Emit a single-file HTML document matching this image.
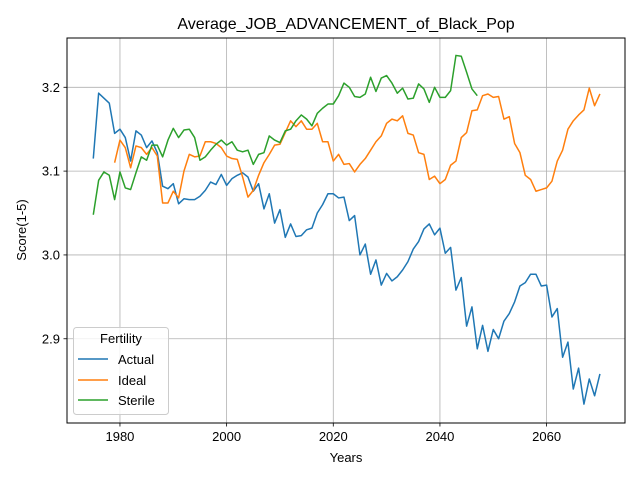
<!DOCTYPE html>
<html><head><meta charset="utf-8"><style>
html,body{margin:0;padding:0;background:#fff;}
svg{display:block;font-family:"Liberation Sans","DejaVu Sans",sans-serif;}
</style></head><body>
<svg id="chart" width="640" height="480" viewBox="0 0 640 480">
<rect x="0" y="0" width="640" height="480" fill="#fff"/>
<text x="346" y="29" font-size="16" text-anchor="middle">Average_JOB_ADVANCEMENT_of_Black_Pop</text>
<g id="grid"></g>
<g id="series"></g>
<rect x="67" y="38" width="558" height="385" fill="none" stroke="#000" stroke-width="1"/>
<g id="ticks"></g>
<text x="346" y="462" font-size="13" text-anchor="middle">Years</text>
<text x="26" y="230" font-size="13" text-anchor="middle" transform="rotate(-90 26 230)">Score(1-5)</text>
<g>
<rect x="73.5" y="327.5" width="95" height="87" rx="3" fill="#fff" fill-opacity="0.8" stroke="#ccc"/>
<text x="121" y="343" font-size="13" text-anchor="middle">Fertility</text>
<line x1="78" y1="359" x2="108" y2="359" stroke="#1f77b4" stroke-width="1.5"/>
<text x="118" y="364" font-size="13">Actual</text>
<line x1="78" y1="380" x2="108" y2="380" stroke="#ff7f0e" stroke-width="1.5"/>
<text x="118" y="385" font-size="13">Ideal</text>
<line x1="78" y1="400" x2="108" y2="400" stroke="#2ca02c" stroke-width="1.5"/>
<text x="118" y="405" font-size="13">Sterile</text>
</g>
</svg>
<script>
const actualStart = 1975;
const actualValues = [3.115,3.193,3.187,3.181,3.145,3.150,3.140,3.112,3.148,3.143,3.128,3.136,3.122,3.082,3.079,3.085,3.061,3.067,3.066,3.066,3.070,3.077,3.087,3.084,3.096,3.083,3.091,3.095,3.098,3.093,3.076,3.085,3.055,3.073,3.038,3.054,3.021,3.037,3.022,3.023,3.030,3.032,3.050,3.060,3.073,3.073,3.068,3.069,3.041,3.047,3.000,3.013,2.977,2.994,2.964,2.978,2.969,2.974,2.982,2.992,3.007,3.016,3.031,3.037,3.024,3.032,3.002,3.009,2.958,2.973,2.915,2.938,2.888,2.916,2.885,2.911,2.900,2.921,2.930,2.944,2.963,2.967,2.977,2.977,2.963,2.964,2.926,2.936,2.878,2.896,2.840,2.865,2.822,2.852,2.832,2.858];
const idealStart = 1979;
const idealValues = [3.110,3.137,3.128,3.104,3.130,3.128,3.120,3.128,3.118,3.062,3.062,3.076,3.068,3.100,3.120,3.117,3.118,3.135,3.135,3.133,3.128,3.118,3.115,3.114,3.093,3.069,3.077,3.095,3.110,3.120,3.131,3.132,3.146,3.160,3.153,3.160,3.150,3.150,3.157,3.135,3.135,3.112,3.120,3.108,3.109,3.099,3.108,3.115,3.125,3.135,3.142,3.157,3.162,3.160,3.166,3.145,3.143,3.122,3.120,3.090,3.094,3.085,3.090,3.107,3.112,3.140,3.146,3.172,3.173,3.190,3.192,3.188,3.189,3.162,3.165,3.133,3.122,3.095,3.090,3.076,3.078,3.080,3.088,3.112,3.125,3.150,3.160,3.167,3.173,3.199,3.178,3.192];
const sterileStart = 1975;
const sterileValues = [3.048,3.089,3.099,3.095,3.066,3.099,3.080,3.078,3.098,3.117,3.113,3.131,3.131,3.117,3.137,3.151,3.140,3.149,3.150,3.140,3.113,3.117,3.125,3.132,3.137,3.131,3.135,3.125,3.123,3.125,3.108,3.120,3.122,3.142,3.137,3.134,3.148,3.150,3.160,3.167,3.162,3.154,3.169,3.175,3.180,3.180,3.190,3.205,3.200,3.189,3.188,3.192,3.212,3.195,3.211,3.214,3.205,3.193,3.199,3.186,3.187,3.204,3.198,3.182,3.200,3.188,3.188,3.196,3.238,3.237,3.218,3.198,3.190];
const xTicks = [1980,2000,2020,2040,2060];
const yTicks = [2.9,3.0,3.1,3.2];

const X0=67,X1=625,Y0=38,Y1=423;
const xMin=1970.07,xMax=2074.7,yMin=2.7995,yMax=3.2588;
function xs(v){return X0+(v-xMin)/(xMax-xMin)*(X1-X0);}
function ys(v){return Y1-(v-yMin)/(yMax-yMin)*(Y1-Y0);}
const NS="http://www.w3.org/2000/svg";
const grid=document.getElementById('grid'),ticks=document.getElementById('ticks'),ser=document.getElementById('series');
function mk(tag,attrs,parent){const e=document.createElementNS(NS,tag);for(const k in attrs)e.setAttribute(k,attrs[k]);parent.appendChild(e);return e;}
xTicks.forEach(t=>{
  const x=xs(t);
  const g=mk('line',{x1:x,x2:x,y1:Y0,y2:Y1,stroke:'#b0b0b0','stroke-width':0.8},grid);
  
  
  const tk=mk('line',{x1:x,x2:x,y1:Y1,y2:Y1+3.5,stroke:'#000','stroke-width':0.8},ticks);
  
  
  const tx=mk('text',{x:x,y:Y1+18,'font-size':13,'text-anchor':'middle'},ticks);
  tx.textContent=t;
  
  
});
yTicks.forEach(t=>{
  const y=ys(t);
  const g=mk('line',{x1:X0,x2:X1,y1:y,y2:y,stroke:'#b0b0b0','stroke-width':0.8},grid);
  
  
  const tk=mk('line',{x1:X0-3.5,x2:X0,y1:y,y2:y,stroke:'#000','stroke-width':0.8},ticks);
  
  
  const tx=mk('text',{x:X0-7,y:y+4.5,'font-size':13,'text-anchor':'end'},ticks);
  tx.textContent=t.toFixed(1);
  
  
});
function drawLine(start,vals,color,name){
  const pts=vals.map((v,i)=>xs(start+i).toFixed(2)+','+ys(v).toFixed(2)).join(' ');
  const p=mk('polyline',{points:pts,fill:'none',stroke:color,'stroke-width':1.5,'stroke-linejoin':'round'},ser);
  
  
}
drawLine(actualStart,actualValues,'#1f77b4','actual-line');
drawLine(idealStart,idealValues,'#ff7f0e','ideal-line');
drawLine(sterileStart,sterileValues,'#2ca02c','sterile-line');
</script>
</body></html>
